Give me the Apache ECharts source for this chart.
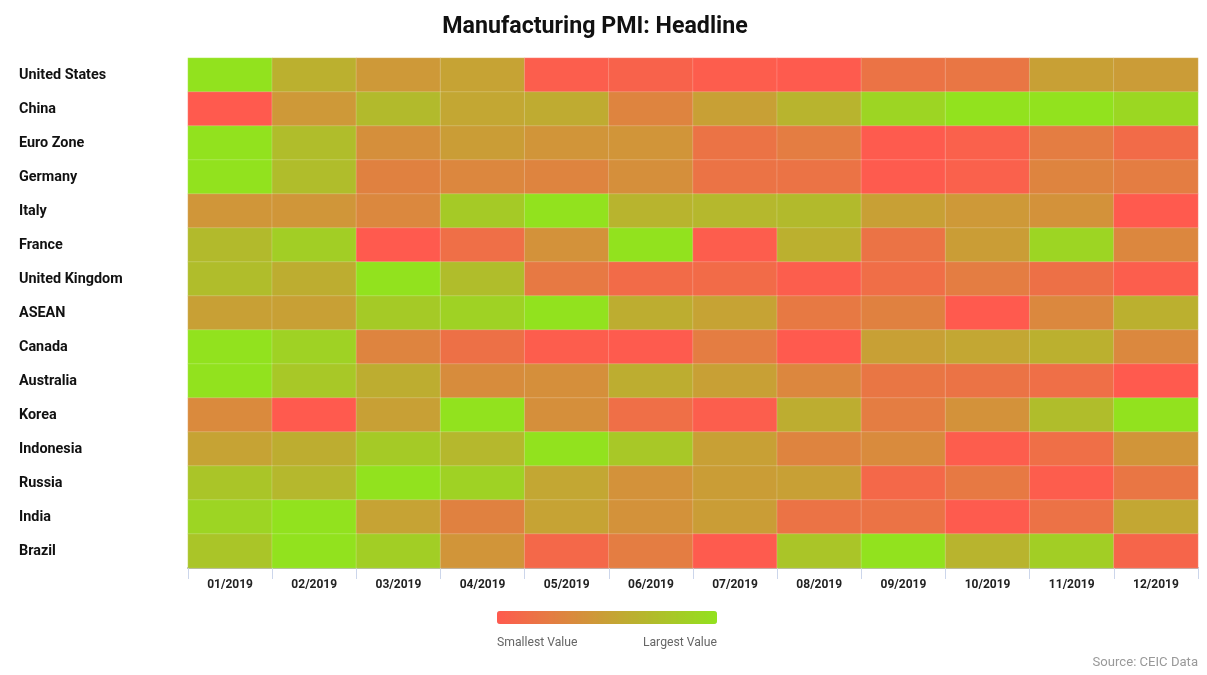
<!DOCTYPE html>
<html><head><meta charset="utf-8">
<style>html,body{margin:0;padding:0;background:#fff}#c{width:1207px;height:675px}</style>
<script src="https://cdn.jsdelivr.net/npm/echarts@6/dist/echarts.min.js"></script>
</head><body><div id="c"></div>
<script>
const months=['01/2019','02/2019','03/2019','04/2019','05/2019','06/2019','07/2019','08/2019','09/2019','10/2019','11/2019','12/2019'];
const countries=['United States','China','Euro Zone','Germany','Italy','France','United Kingdom','ASEAN','Canada','Australia','Korea','Indonesia','Russia','India','Brazil'];
const unitedStates=[100,62,45,52,3,6,2,1,18,20,50,47];
const china=[0,45,70,55,58,30,50,65,90,100,100,92];
const euroZone=[100,72,38,48,42,42,18,25,1,5,25,12];
const germany=[100,72,28,32,30,38,18,18,1,5,30,25];
const italy=[43,43,33,82,100,65,68,70,50,45,40,0];
const france=[70,85,0,15,40,100,2,62,18,48,90,32];
const unitedKingdom=[72,60,100,72,22,12,12,3,14,25,16,3];
const asean=[50,50,82,88,100,60,52,22,28,0,33,62];
const canada=[100,88,30,16,2,1,25,0,50,55,62,33];
const australia=[100,80,60,36,38,60,50,32,20,18,15,0];
const korea=[34,0,50,100,38,15,3,60,25,40,72,100];
const indonesia=[52,60,82,68,100,80,50,30,35,2,15,42];
const russia=[78,68,100,88,55,40,48,50,10,22,2,20];
const india=[90,100,52,28,52,40,48,18,18,1,17,55];
const brazil=[78,100,85,42,10,25,1,78,100,65,85,8];
const rows=[unitedStates,china,euroZone,germany,italy,france,unitedKingdom,asean,canada,australia,korea,indonesia,russia,india,brazil];
const data=[];
rows.forEach((r,y)=>r.forEach((v,x)=>data.push([x,y,v])));
const chart=echarts.init(document.getElementById('c'),null,{renderer:'canvas'});
chart.setOption({
  animation:false,
  backgroundColor:'#fff',
  textStyle:{fontFamily:'Roboto'},
  title:{text:'Manufacturing PMI: Headline',left:590,top:11,textAlign:'center',
    textStyle:{fontFamily:'Roboto',fontSize:23.2,fontWeight:'bold',color:'#111'}},
  grid:{left:188,top:58,width:1010,height:510,containLabel:false},
  xAxis:{type:'category',data:months,position:'bottom',
    axisLine:{show:true,lineStyle:{color:'#adadad',width:2}},
    axisTick:{show:true,length:11,alignWithLabel:false,lineStyle:{color:'#ccd6eb'}},
    axisLabel:{interval:0,margin:11,fontFamily:'Roboto',fontSize:12,fontWeight:'bold',color:'#222'},
    splitLine:{show:false}},
  yAxis:{type:'category',data:countries,inverse:true,
    axisLine:{show:false},axisTick:{show:false},
    axisLabel:{interval:0,align:'left',margin:169,padding:[4,0,0,0],fontFamily:'Roboto',fontSize:14.4,fontWeight:'bold',color:'#111'},
    splitLine:{show:false}},
  visualMap:{type:'continuous',min:0,max:100,orient:'horizontal',left:497,top:611,padding:0,
    itemWidth:13,itemHeight:220,calculable:false,realtime:false,showLabel:false,text:['',''],
    inRange:{color:['#ff5a4e','#c8a035','#92e21e']},seriesIndex:0},
  graphic:[
    {type:'text',left:497,top:637,style:{text:'Smallest Value',fontFamily:'Roboto',fontSize:12.2,fill:'#666'}},
    {type:'text',right:490,top:637,style:{text:'Largest Value',fontFamily:'Roboto',fontSize:12.2,fill:'#666'}},
    {type:'text',right:9,top:656,style:{text:'Source: CEIC Data',fontFamily:'Roboto',fontSize:13.1,fill:'#999'}}
  ],
  series:[{type:'heatmap',data:data,
    itemStyle:{borderColor:'rgba(255,255,255,0.2)',borderWidth:1},
    label:{show:false},emphasis:{disabled:true}}]
});
</script></body></html>
